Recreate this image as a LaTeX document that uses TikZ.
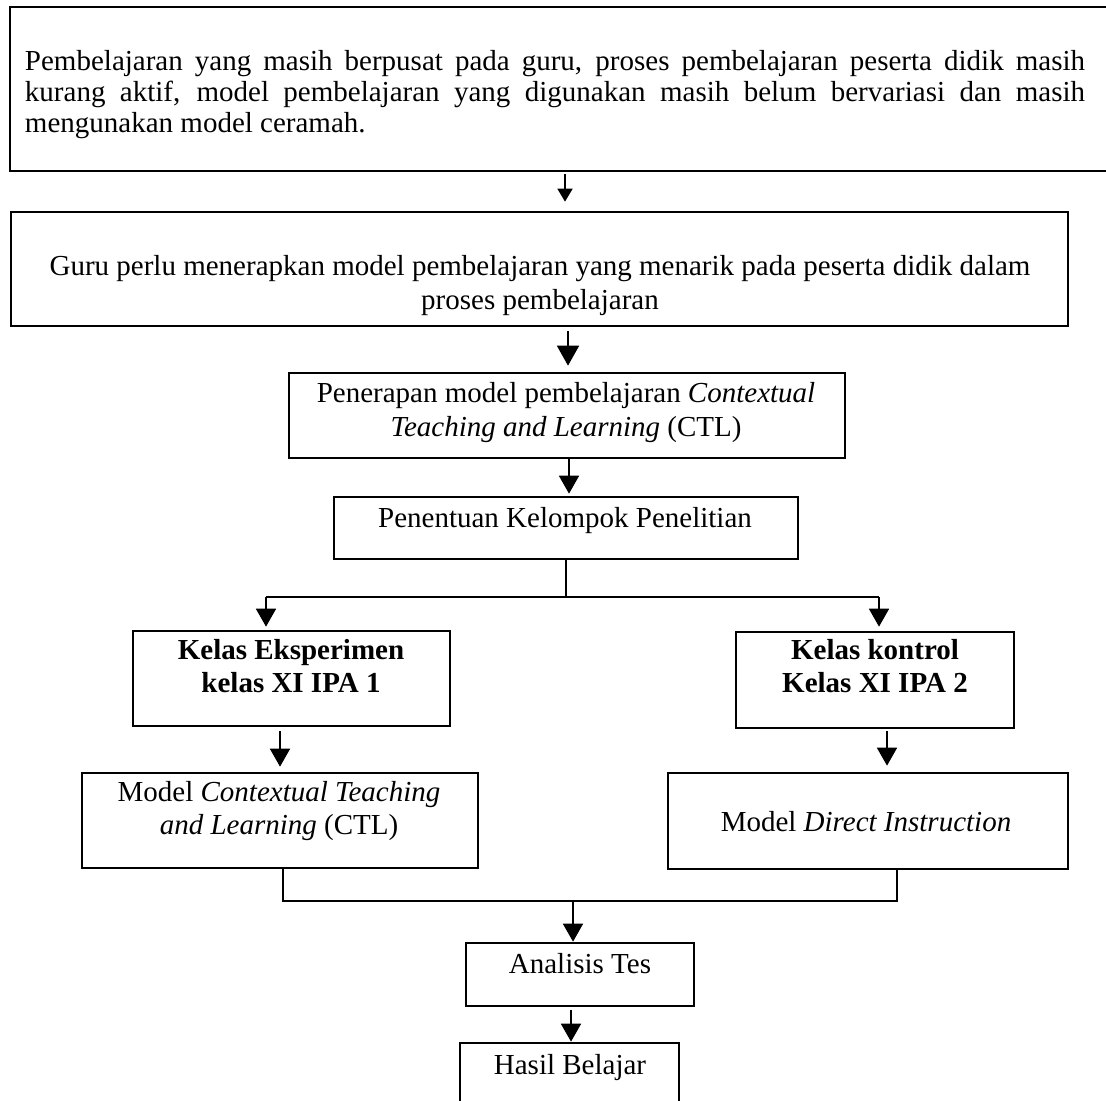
\documentclass[tikz,border=0pt]{standalone}
\usepackage{fontspec}
\setmainfont{Liberation Serif}
\usetikzlibrary{arrows.meta,fit}
\begin{document}
\begin{tikzpicture}[x=0.5pt,y=-0.5pt,
  box/.style={draw, line width=1.35pt, inner sep=0pt},
  txt/.style={font=\fontsize{14.5}{17}\selectfont, align=center, inner sep=0pt},
  conn/.style={line width=0.9pt},
  arr/.style={conn, -{Triangle[width=10pt,length=9pt]}},
  arrsmall/.style={conn, -{Triangle[width=7.5pt,length=6.5pt]}},
  arrbig/.style={conn, -{Triangle[width=11pt,length=10pt]}}]
\useasboundingbox (0,0) rectangle (1106,1100);
% boxes
\node[box, fit={(10,7) (1120,171)}] (b1) {};
\node[box, fit={(11,212) (1068,326)}] (b2) {};
\node[box, fit={(289,373) (845,458)}] (b3) {};
\node[box, fit={(334,497) (798,559)}] (b4) {};
\node[box, fit={(133,631) (450,726)}] (b5) {};
\node[box, fit={(736,632) (1014,728)}] (b6) {};
\node[box, fit={(82,773) (478,868)}] (b7) {};
\node[box, fit={(668,773) (1068,869)}] (b8) {};
\node[box, fit={(466,943) (694,1006)}] (b9) {};
\node[box, fit={(460,1043) (679,1130)}] (b10) {};
% texts
\node[txt, text width=530pt, align=justify, font=\fontsize{14.5}{15.5}\selectfont] (t1) at (555,95)
 {\hyphenpenalty=10000 Pembelajaran yang masih berpusat pada guru, proses pembelajaran peserta didik masih\linebreak
  kurang aktif, model pembelajaran yang digunakan masih belum bervariasi dan masih\linebreak
  mengunakan model ceramah.};
\node[txt] (t2) at (540,286) {Guru perlu menerapkan model pembelajaran yang menarik pada peserta didik dalam\\ proses pembelajaran};
\node[txt] (t3) at (566,413) {Penerapan model pembelajaran \textit{Contextual}\\ \textit{Teaching and Learning} (CTL)};
\node[txt] (t4) at (565,521) {Penentuan Kelompok Penelitian};
\node[txt, font=\fontsize{14.5}{16.5}\selectfont\bfseries] (t5) at (291,666) {Kelas Eksperimen\\ kelas XI IPA 1};
\node[txt, font=\fontsize{14.5}{16.5}\selectfont\bfseries] (t6) at (875,666) {Kelas kontrol\\ Kelas XI IPA 2};
\node[txt, font=\fontsize{14.5}{16.5}\selectfont] (t7) at (279,811) {Model \textit{Contextual Teaching}\\ \textit{and Learning} (CTL)};
\node[txt] (t8) at (866,822) {Model \textit{Direct Instruction}};
\node[txt] (t9) at (580,964) {Analisis Tes};
\node[txt] (t10) at (570,1067) {Hasil Belajar};
% connector x positions
\coordinate (x1) at (565,0);
\coordinate (x2) at (568,0);
\coordinate (x3) at (569,0);
\coordinate (x4) at (566,0);
\coordinate (jl) at (266,597);
\coordinate (jr) at (879,597);
\coordinate (x5) at (280,0);
\coordinate (x6) at (887,0);
\coordinate (x7) at (283,0);
\coordinate (x8) at (897,0);
\coordinate (jm) at (573,901);
\coordinate (x9) at (571,0);
% connectors
\draw[arrsmall, shorten <=1pt, shorten >=4.5pt] (b1.south -| x1) -- (b2.north -| x1);
\draw[arrbig, shorten <=2pt, shorten >=3pt] (b2.south -| x2) -- (b3.north -| x2);
\draw[arr, shorten >=1pt] (b3.south -| x3) -- (b4.north -| x3);
\draw[conn] (b4.south -| x4) -- (x4 |- jl);
\draw[conn] (jl) -- (jr);
\draw[arr, shorten >=1.5pt] (jl) -- (b5.north -| jl);
\draw[arr, shorten >=2pt] (jr) -- (b6.north -| jr);
\draw[arr, shorten <=2pt, shorten >=2.5pt] (b5.south -| x5) -- (b7.north -| x5);
\draw[arr, shorten <=1pt, shorten >=3pt] (b6.south -| x6) -- (b8.north -| x6);
\draw[conn] (b7.south -| x7) |- (jm) -| (b8.south -| x8);
\draw[arr] (jm) -- (b9.north -| jm);
\draw[arr, shorten <=1.5pt] (b9.south -| x9) -- (b10.north -| x9);
\end{tikzpicture}
\end{document}
